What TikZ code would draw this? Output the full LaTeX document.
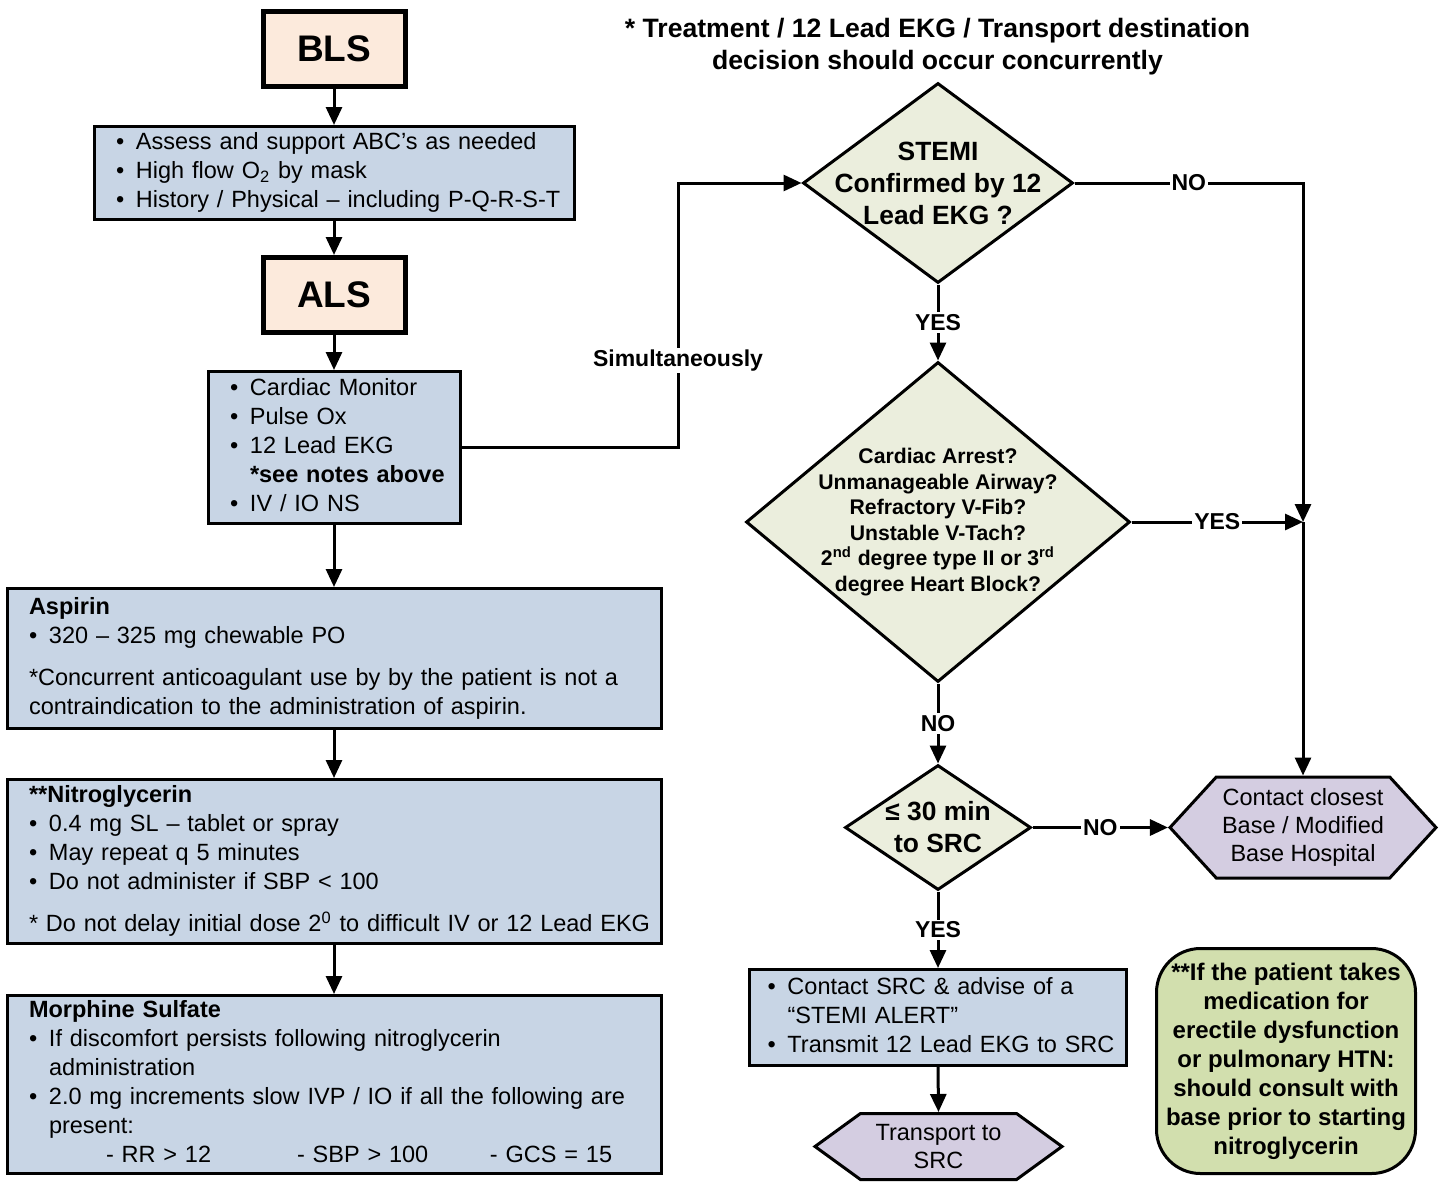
\documentclass[tikz,border=0pt]{standalone}
\usepackage{fontspec}
\setmainfont{Liberation Sans}
\usepackage{xcolor}
\usepackage{tikz}
\usetikzlibrary{arrows.meta,shapes.geometric,shapes.symbols}
\definecolor{c1}{HTML}{FCEADC}
\definecolor{c2}{HTML}{C8D5E5}
\definecolor{c3}{HTML}{EBEEDD}
\definecolor{c4}{HTML}{D4CDE1}
\definecolor{c5}{HTML}{D2DFAE}
\newcommand{\bul}{\makebox[10pt][l]{\textbullet}}
\newcommand{\ind}{\hspace*{10pt}}

\begin{document}
\begin{tikzpicture}[x=0.5pt,y=-0.5pt,
    lsbox/.style={draw, line width=2.5pt, fill=c1, minimum width=71pt, minimum height=37.5pt, font=\fontsize{18.5}{22}\selectfont\bfseries},
    infobox/.style={draw, line width=1.5pt, fill=c2, inner xsep=11pt, inner ysep=0pt, align=left, font=\fontsize{11.75}{14.5}\selectfont},
    decision/.style={diamond, draw, line width=1.5pt, fill=c3, inner sep=0pt},
    hexa/.style={signal, signal to=west and east, draw, line width=1.5pt, fill=c4, inner sep=0pt, align=center, font=\fontsize{11.75}{14}\selectfont},
    lbl/.style={fill=white, inner sep=1pt, font=\fontsize{11.5}{14}\selectfont\bfseries},
    arr/.style={line width=1.5pt, -{Triangle[length=9pt,width=8pt]}}]
            \useasboundingbox (0,0) rectangle (1444,1183);
            \node[align=center, font=\fontsize{13.3}{16}\selectfont\bfseries] (title) at (937.5,47) {* Treatment / 12 Lead EKG / Transport destination\\decision should occur concurrently};
            \node[lsbox] (bls) at (334,49) {BLS};
            \node[infobox, text width=218pt, minimum height=46.5pt] (abc) at (334,173) {\begin{tabular}{@{}l@{}}
                \bul Assess and support ABC’s as needed\\
                \bul High flow O\textsubscript{2} by mask\\
                \bul History / Physical – including P-Q-R-S-T\end{tabular}};
            \node[lsbox] (als) at (334,295) {ALS};
            \node[infobox, text width=104pt, minimum height=76pt] (monitor) at (334,447.5) {\begin{tabular}{@{}l@{}}
                \bul Cardiac Monitor\\
                \bul Pulse Ox\\
                \bul 12 Lead EKG\\
                \ind\textbf{*see notes above}\\
                \bul IV / IO NS\end{tabular}};
            \node[infobox, text width=305pt, minimum height=70pt] (aspirin) at (334,658.5) {\begin{tabular}{@{}l@{}}
                \textbf{Aspirin}\\
                \bul 320 – 325 mg chewable PO\\[6.5pt]
                *Concurrent anticoagulant use by by the patient is not a\\
                contraindication to the administration of aspirin.\end{tabular}};
            \node[infobox, text width=305pt, minimum height=82pt] (nitro) at (334,861.5) {\begin{tabular}{@{}l@{}}
                \textbf{**Nitroglycerin}\\
                \bul 0.4 mg SL – tablet or spray\\
                \bul May repeat q 5 minutes\\
                \bul Do not administer if SBP < 100\\[6.5pt]
                * Do not delay initial dose 2\textsuperscript{0} to difficult IV or 12 Lead EKG\end{tabular}};
            \node[infobox, text width=305pt, minimum height=89pt] (morphine) at (334,1084.5) {\begin{tabular}{@{}l@{}}
                \textbf{Morphine Sulfate}\\
                \bul If discomfort persists following nitroglycerin\\
                \ind administration\\
                \bul 2.0 mg increments slow IVP / IO if all the following are\\
                \ind present:\\
                \hspace*{38.5pt}\makebox[95.5pt][l]{- RR > 12}\makebox[96.5pt][l]{- SBP > 100}- GCS = 15\end{tabular}};
            \node[decision, minimum width=135pt, minimum height=100pt, label={[font=\fontsize{13.2}{16}\selectfont\bfseries, align=center]center:{STEMI\\Confirmed by 12\\Lead EKG ?}}] (stemi) at (938,183) {};
            \node[decision, minimum width=192pt, minimum height=160pt, label={[font=\fontsize{10.6}{12.8}\selectfont\bfseries, align=center]center:{Cardiac Arrest?\\Unmanageable Airway?\\Refractory V-Fib?\\Unstable V-Tach?\\2\textsuperscript{nd} degree type II or 3\textsuperscript{rd}\\degree Heart Block?}}] (q2) at (938,522) {};
            \node[decision, minimum width=93pt, minimum height=62.5pt, label={[font=\fontsize{13.2}{16}\selectfont\bfseries, align=center]center:{≤ 30 min\\to SRC}}] (time) at (938,827.5) {};
            \node[hexa, minimum width=133pt, minimum height=50.5pt, signal pointer angle=95] (base) at (1303,827.5) {Contact closest\\Base / Modified\\Base Hospital};
            \node[infobox, inner xsep=9pt, text width=170.5pt, minimum height=48pt] (alert) at (938,1017.5) {\begin{tabular}{@{}l@{}}
                \bul Contact SRC \& advise of a\\
                \ind “STEMI ALERT”\\
                \bul Transmit 12 Lead EKG to SRC\end{tabular}};
            \node[hexa, minimum width=123.5pt, minimum height=33pt, signal pointer angle=72] (transport) at (938.5,1146.5) {Transport to\\SRC};
            \node[draw, line width=1.5pt, fill=c5, rounded corners=22pt, minimum width=129.5pt, minimum height=112.5pt, align=center, font=\fontsize{12}{14.5}\selectfont\bfseries] (note) at (1286,1061) {**If the patient takes\\medication for\\erectile dysfunction\\or pulmonary HTN:\\should consult with\\base prior to starting\\nitroglycerin};
            \coordinate (simul) at (678,183);
            \coordinate (junc) at (base.north |- q2.east);
            \draw[arr] (bls) -- (abc);
            \draw[arr] (abc) -- (als);
            \draw[arr] (als) -- (monitor);
            \draw[arr] (monitor) -- (aspirin);
            \draw[arr] (aspirin) -- (nitro);
            \draw[arr] (nitro) -- (morphine);
            \draw[arr] (monitor.east) -| node[lbl, pos=0.665] {Simultaneously} (simul) -- (stemi.west);
            \draw[arr] (stemi.east) -- node[lbl] {NO} (stemi.east -| base.north) -- (junc);
            \draw[arr] (junc) -- (base.north);
            \draw[arr] (q2.east) -- node[lbl] {YES} (junc);
            \draw[arr] (stemi.south) -- node[lbl] {YES} (q2.north);
            \draw[arr] (q2.south) -- node[lbl] {NO} (time.north);
            \draw[arr] (time.east) -- node[lbl] {NO} (base.west);
            \draw[arr] (time.south) -- node[lbl] {YES} (alert.north);
            \draw[arr] (alert.south) -- (transport.north);
        \end{tikzpicture}
\end{document}
